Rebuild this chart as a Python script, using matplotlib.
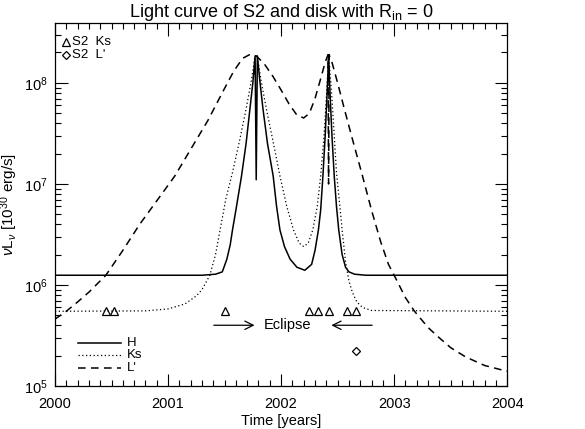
import matplotlib
matplotlib.use("Agg")
import matplotlib.pyplot as plt
from matplotlib.ticker import MultipleLocator, FormatStrFormatter, LogLocator

plt.rcParams['font.family'] = ['Liberation Sans', 'DejaVu Sans']
plt.rcParams['mathtext.fontset'] = 'custom'
plt.rcParams['mathtext.rm'] = 'Liberation Sans'
plt.rcParams['mathtext.it'] = 'Liberation Sans:italic'

# model light curves (year, nu L_nu in 1e30 erg/s)
t_H = [2000.0, 2001.3, 2001.42, 2001.48, 2001.52, 2001.55, 2001.57, 2001.60, 2001.65,
       2001.69, 2001.72, 2001.75, 2001.77, 2001.78, 2001.79, 2001.81, 2001.84, 2001.88,
       2001.93, 2001.96, 2001.99, 2002.03, 2002.08, 2002.14, 2002.21, 2002.27, 2002.30,
       2002.33, 2002.35, 2002.37, 2002.39, 2002.405, 2002.415, 2002.42, 2002.425,
       2002.435, 2002.45, 2002.47, 2002.49, 2002.51, 2002.54, 2002.57, 2002.60, 2002.65,
       2002.75, 2004.0]
L_H = [1.25e6, 1.25e6, 1.28e6, 1.35e6, 1.8e6, 2.5e6, 3.5e6, 5.5e6, 1.2e7,
       2.5e7, 5e7, 1.0e8, 1.85e8, 1.1e7, 1.85e8, 1.1e8, 5.5e7, 2.5e7,
       1.2e7, 6e6, 3.5e6, 2.4e6, 1.8e6, 1.5e6, 1.4e6, 1.6e6, 2.2e6,
       3.5e6, 5.5e6, 1.2e7, 3e7, 7e7, 1.3e8, 1.85e8, 1.3e8,
       7e7, 3e7, 1.2e7, 6e6, 3.5e6, 2e6, 1.5e6, 1.35e6, 1.28e6,
       1.25e6, 1.25e6]

t_Ks = [2000.0, 2000.8, 2001.0, 2001.15, 2001.25, 2001.30, 2001.37, 2001.42, 2001.46,
        2001.51, 2001.57, 2001.63, 2001.69, 2001.74, 2001.77, 2001.79, 2001.82, 2001.87,
        2001.93, 2001.99, 2002.05, 2002.11, 2002.16, 2002.20, 2002.24, 2002.28, 2002.32,
        2002.35, 2002.38, 2002.40, 2002.415, 2002.42, 2002.43, 2002.45, 2002.47, 2002.49,
        2002.52, 2002.54, 2002.57, 2002.60, 2002.63, 2002.67, 2002.72, 2002.80, 2004.0]
L_Ks = [5.5e5, 5.55e5, 5.8e5, 6.5e5, 7.8e5, 9e5, 1.25e6, 2e6, 3.5e6,
        7e6, 1.3e7, 2.6e7, 5.5e7, 1.1e8, 1.85e8, 1.85e8, 1.1e8, 5.5e7,
        2.6e7, 1.2e7, 6e6, 3.5e6, 2.6e6, 2.4e6, 2.6e6, 3.5e6, 6e6,
        1.2e7, 3e7, 7e7, 1.4e8, 1.85e8, 1.4e8, 7e7, 3e7, 1.3e7,
        6e6, 3.5e6, 1.7e6, 1.1e6, 8.5e5, 6.8e5, 6e5, 5.6e5, 5.5e5]

t_L = [2000.0, 2000.1, 2000.2, 2000.3, 2000.45, 2000.6, 2000.75, 2000.9, 2001.06,
       2001.2, 2001.35, 2001.48, 2001.58, 2001.66, 2001.72, 2001.78, 2001.85, 2001.93,
       2002.0, 2002.07, 2002.14, 2002.20, 2002.25, 2002.30, 2002.35, 2002.39, 2002.415,
       2002.42, 2002.425, 2002.45, 2002.50, 2002.56, 2002.63, 2002.72, 2002.8, 2002.88,
       2002.95, 2003.0, 2003.1, 2003.18, 2003.3, 2003.4, 2003.5, 2003.63, 2003.8, 2004.0]
L_L = [4.6e5, 5.5e5, 6.8e5, 8.5e5, 1.25e6, 2.2e6, 4e6, 6.8e6, 1.2e7,
       2.2e7, 4.2e7, 8e7, 1.3e8, 1.75e8, 1.9e8, 1.85e8, 1.55e8, 1.15e8,
       8.5e7, 6.2e7, 4.8e7, 4.5e7, 5e7, 7e7, 1.1e8, 1.6e8, 1.9e8,
       1.0e7, 1.9e8, 1.6e8, 1e8, 5.5e7, 2.8e7, 1.2e7, 5.5e6, 2.7e6,
       1.6e6, 1.25e6, 7.5e5, 5.5e5, 3.8e5, 3e5, 2.4e5, 1.95e5, 1.6e5, 1.4e5]

# S2 observations
t_s2_ks = [2000.45, 2000.52, 2001.50, 2002.25, 2002.33, 2002.42, 2002.58, 2002.66]
L_s2_ks = [5.5e5, 5.5e5, 5.5e5, 5.5e5, 5.5e5, 5.5e5, 5.5e5, 5.5e5]
t_s2_lp = [2002.66]
L_s2_lp = [2.2e5]

fs = 10.5
fl = 9.5

fig = plt.figure(figsize=(5.85, 4.29), dpi=100)
ax = fig.add_axes([0.094, 0.1, 0.773, 0.846])

ax.plot(t_H, L_H, color='k', lw=1.1, ls='-')
ax.plot(t_Ks, L_Ks, color='k', lw=0.9, ls=(0, (1, 2)))
ax.plot(t_L, L_L, color='k', lw=1.1, ls=(0, (5, 3.5)))

ax.plot(t_s2_ks, L_s2_ks, ls='none', marker='^', ms=5.5, mfc='none', mec='k', mew=0.9)
ax.plot(t_s2_lp, L_s2_lp, ls='none', marker='D', ms=4, mfc='none', mec='k', mew=0.9)

# eclipse arrows
ax.annotate('', xy=(2001.79, 4e5), xytext=(2001.38, 4e5),
            arrowprops=dict(arrowstyle='->', lw=0.9, color='k', mutation_scale=15))
ax.annotate('', xy=(2002.42, 4e5), xytext=(2002.83, 4e5),
            arrowprops=dict(arrowstyle='->', lw=0.9, color='k', mutation_scale=15))
ax.text(2002.06, 4e5, 'Eclipse', ha='center', va='center', fontsize=fs)

# legends
tr = ax.transAxes
ax.plot([0.025], [0.948], transform=tr, marker='^', ms=5.5, mfc='none', mec='k', mew=0.9)
ax.text(0.038, 0.948, 'S2  Ks', transform=tr, ha='left', va='center', fontsize=fl)
ax.plot([0.025], [0.912], transform=tr, marker='D', ms=4, mfc='none', mec='k', mew=0.9)
ax.text(0.038, 0.912, "S2  L'", transform=tr, ha='left', va='center', fontsize=fl)

ax.plot([0.05, 0.145], [0.12, 0.12], transform=tr, color='k', lw=1.1)
ax.plot([0.05, 0.145], [0.085, 0.085], transform=tr, color='k', lw=0.9, ls=(0, (1, 2)))
ax.plot([0.05, 0.145], [0.05, 0.05], transform=tr, color='k', lw=1.1, ls=(0, (5, 3.5)))
ax.text(0.16, 0.12, 'H', transform=tr, va='center', fontsize=fl)
ax.text(0.16, 0.085, 'Ks', transform=tr, va='center', fontsize=fl)
ax.text(0.16, 0.05, "L'", transform=tr, va='center', fontsize=fl)

ax.set_yscale('log')
ax.set_xlim(2000, 2004)
ax.set_ylim(1e5, 3.9e8)
ax.xaxis.set_major_locator(MultipleLocator(1))
ax.xaxis.set_minor_locator(MultipleLocator(0.1))
ax.xaxis.set_major_formatter(FormatStrFormatter('%d'))
ax.yaxis.set_major_locator(LogLocator(base=10, numticks=10))
ax.yaxis.set_minor_locator(LogLocator(base=10, subs=range(2, 10), numticks=10))
ax.tick_params(which='both', direction='in', top=True, right=True, labelsize=fs, width=0.8)
ax.tick_params(which='major', length=9)
ax.tick_params(which='minor', length=4.5)
ax.tick_params(axis='x', pad=8)
ax.tick_params(axis='y', pad=5)
for s in ax.spines.values():
    s.set_linewidth(0.9)

ax.set_xlabel('Time [years]', fontsize=fs, labelpad=2)
ax.set_ylabel(r'$\nu$L$_\nu$ [10$^{30}$ erg/s]', fontsize=fs + 0.5, labelpad=3)
ax.set_title(r'Light curve of S2 and disk with R$_{\rm in}$ = 0', fontsize=13, pad=4)

fig.savefig('out.png', dpi=100)
